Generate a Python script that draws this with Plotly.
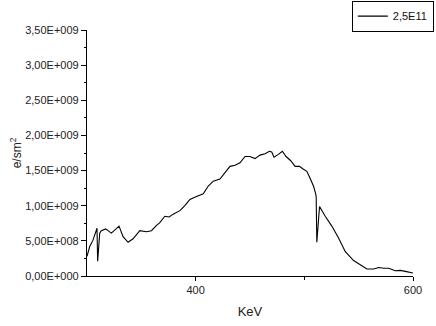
import plotly.graph_objects as go

energy_kev = [300, 302.5, 305.5, 309.2, 309.8, 311.7, 313.2, 317.2, 322.4, 325.5, 329.5, 333.2,
              337.8, 342.4, 348.6, 354.7, 359.3, 364, 367, 371.6, 375.6, 379.3, 385.5, 390,
              394.7, 400.8, 407, 411.6, 416.2, 422.3, 426.9, 431.6, 436.2, 440.8, 445.4, 450,
              454.6, 459.2, 463.9, 467.8, 470, 472.1, 476.1, 479.8, 483.2, 487.5, 491.5, 495.5,
              499.2, 502.3, 505.3, 508.4, 510.3, 510.9, 511.5, 514, 519.2, 525.3, 531.5, 537.6,
              545.3, 553, 557.6, 563.8, 568.4, 573, 577.6, 583.7, 588.3, 593, 600]
flux = [0.28, 0.42, 0.51, 0.68, 0.21, 0.61, 0.645, 0.67, 0.61, 0.66, 0.71, 0.56,
        0.48, 0.53, 0.645, 0.63, 0.645, 0.72, 0.76, 0.85, 0.84, 0.88, 0.93, 1.0,
        1.09, 1.13, 1.17, 1.28, 1.35, 1.38, 1.47, 1.56, 1.575, 1.61, 1.70, 1.70,
        1.67, 1.72, 1.74, 1.775, 1.765, 1.69, 1.73, 1.775, 1.70, 1.64, 1.56, 1.56,
        1.52, 1.49, 1.39, 1.28, 1.18, 1.13, 0.48, 0.99, 0.85, 0.71, 0.54, 0.35,
        0.22, 0.14, 0.10, 0.10, 0.12, 0.11, 0.11, 0.075, 0.08, 0.066, 0.043]
flux = [v * 1e9 for v in flux]

y_tick_vals = [0, 0.5e9, 1.0e9, 1.5e9, 2.0e9, 2.5e9, 3.0e9, 3.5e9]
y_tick_text = ["0,00E+000", "5,00E+008", "1,00E+009", "1,50E+009",
               "2,00E+009", "2,50E+009", "3,00E+009", "3,50E+009"]
x_tick_vals = [400, 600]
x_tick_text = ["400", "600"]
series_name = "2,5E11"

font_family = "Liberation Sans, Arial, sans-serif"

fig = go.Figure()
fig.add_trace(go.Scatter(x=energy_kev, y=flux, mode="lines", name=series_name,
                         line=dict(color="black", width=1.1), showlegend=True))

fig.update_layout(
    width=436, height=326,
    margin=dict(l=87, r=23, t=30, b=50, autoexpand=False),
    paper_bgcolor="white", plot_bgcolor="white",
    font=dict(family=font_family, size=11, color="#222"),
    showlegend=True,
    legend=dict(xref="container", yref="container", x=0.995, y=0.998,
                xanchor="right", yanchor="top",
                bordercolor="black", borderwidth=1, bgcolor="white",
                font=dict(size=11, color="#111"),
                itemwidth=30, tracegroupgap=0),
    xaxis=dict(range=[300, 600], tickmode="array", tickvals=x_tick_vals, ticktext=x_tick_text,
               showgrid=False, zeroline=False, showline=True, linecolor="black", linewidth=1.2,
               ticks="outside", ticklen=4, tickcolor="black",
               minor=dict(tickmode="array", tickvals=[500], ticks="outside", ticklen=3,
                          tickcolor="black", showgrid=False),
               title=dict(text="KeV", font=dict(size=13), standoff=11),
               tickfont=dict(size=11)),
    yaxis=dict(range=[0, 3.5e9], tickmode="array", tickvals=y_tick_vals, ticktext=y_tick_text,
               showgrid=False, zeroline=False, showline=True, linecolor="black", linewidth=1.2,
               ticks="outside", ticklen=5, tickcolor="black",
               minor=dict(tickmode="linear", tick0=0, dtick=0.25e9, ticks="outside", ticklen=2,
                          tickcolor="black", showgrid=False),
               title=dict(text="e/sm<sup>2</sup>", font=dict(size=12), standoff=0),
               tickfont=dict(size=11)),
)

fig.write_html("out.html")
